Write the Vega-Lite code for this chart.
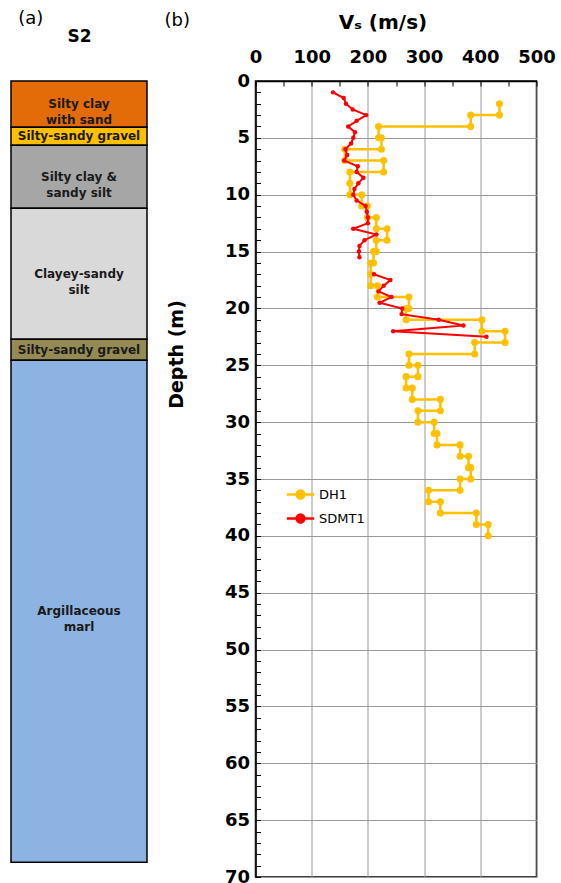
{
  "$schema": "https://vega.github.io/schema/vega-lite/v6.json",
  "padding": {"left": 10, "top": 10, "right": 2, "bottom": 2},
  "spacing": 15.5,
  "config": {
    "font": "DejaVu Sans",
    "view": {"stroke": null},
    "title": {"font": "DejaVu Sans", "fontWeight": "normal", "fontSize": 18, "color": "black"}
  },
  "datasets": {
    "strata": [
      {"id": 1, "top": 0, "bottom": 4.07, "name": "Silty clay|with sand"},
      {"id": 2, "top": 4.07, "bottom": 5.65, "name": "Silty-sandy gravel"},
      {"id": 3, "top": 5.65, "bottom": 11.2, "name": "Silty clay &|sandy silt"},
      {"id": 4, "top": 11.2, "bottom": 22.7, "name": "Clayey-sandy|silt"},
      {"id": 5, "top": 22.7, "bottom": 24.55, "name": "Silty-sandy gravel"},
      {"id": 6, "top": 24.55, "bottom": 68.7, "name": "Argillaceous|marl"}
    ],
    "vs": [
      {"i": 1, "s": "DH1", "seg": "a", "d": 2, "v": 434},
      {"i": 2, "s": "DH1", "seg": "a", "d": 3, "v": 434},
      {"i": 3, "s": "DH1", "seg": "a", "d": 3, "v": 383},
      {"i": 4, "s": "DH1", "seg": "a", "d": 4, "v": 383},
      {"i": 5, "s": "DH1", "seg": "a", "d": 4, "v": 219},
      {"i": 6, "s": "DH1", "seg": "a", "d": 5, "v": 219},
      {"i": 7, "s": "DH1", "seg": "a", "d": 5, "v": 224},
      {"i": 8, "s": "DH1", "seg": "a", "d": 6, "v": 224},
      {"i": 9, "s": "DH1", "seg": "a", "d": 6, "v": 159},
      {"i": 10, "s": "DH1", "seg": "a", "d": 7, "v": 159},
      {"i": 11, "s": "DH1", "seg": "a", "d": 7, "v": 228},
      {"i": 12, "s": "DH1", "seg": "a", "d": 8, "v": 228},
      {"i": 13, "s": "DH1", "seg": "a", "d": 8, "v": 168},
      {"i": 14, "s": "DH1", "seg": "a", "d": 9, "v": 168},
      {"i": 15, "s": "DH1", "seg": "a", "d": 10, "v": 168},
      {"i": 16, "s": "DH1", "seg": "a", "d": 10, "v": 189},
      {"i": 17, "s": "DH1", "seg": "a", "d": 11, "v": 189},
      {"i": 18, "s": "DH1", "seg": "a", "d": 11, "v": 199},
      {"i": 19, "s": "DH1", "seg": "a", "d": 12, "v": 199},
      {"i": 20, "s": "DH1", "seg": "a", "d": 12, "v": 215},
      {"i": 21, "s": "DH1", "seg": "a", "d": 13, "v": 215},
      {"i": 22, "s": "DH1", "seg": "a", "d": 13, "v": 234},
      {"i": 23, "s": "DH1", "seg": "a", "d": 14, "v": 234},
      {"i": 24, "s": "DH1", "seg": "a", "d": 14, "v": 215},
      {"i": 25, "s": "DH1", "seg": "a", "d": 15, "v": 215},
      {"i": 26, "s": "DH1", "seg": "a", "d": 15, "v": 210},
      {"i": 27, "s": "DH1", "seg": "a", "d": 16, "v": 210},
      {"i": 28, "s": "DH1", "seg": "a", "d": 16, "v": 205},
      {"i": 29, "s": "DH1", "seg": "a", "d": 17, "v": 205},
      {"i": 30, "s": "DH1", "seg": "a", "d": 18, "v": 205},
      {"i": 31, "s": "DH1", "seg": "a", "d": 18, "v": 217},
      {"i": 32, "s": "DH1", "seg": "a", "d": 19, "v": 217},
      {"i": 33, "s": "DH1", "seg": "a", "d": 19, "v": 273},
      {"i": 34, "s": "DH1", "seg": "a", "d": 20, "v": 273},
      {"i": 35, "s": "DH1", "seg": "a", "d": 20, "v": 268},
      {"i": 36, "s": "DH1", "seg": "a", "d": 21, "v": 268},
      {"i": 37, "s": "DH1", "seg": "a", "d": 21, "v": 403},
      {"i": 38, "s": "DH1", "seg": "a", "d": 22, "v": 403},
      {"i": 39, "s": "DH1", "seg": "a", "d": 22, "v": 444},
      {"i": 40, "s": "DH1", "seg": "a", "d": 23, "v": 444},
      {"i": 41, "s": "DH1", "seg": "a", "d": 23, "v": 390},
      {"i": 42, "s": "DH1", "seg": "a", "d": 24, "v": 390},
      {"i": 43, "s": "DH1", "seg": "a", "d": 24, "v": 273},
      {"i": 44, "s": "DH1", "seg": "a", "d": 25, "v": 273},
      {"i": 45, "s": "DH1", "seg": "a", "d": 25, "v": 289},
      {"i": 46, "s": "DH1", "seg": "a", "d": 26, "v": 289},
      {"i": 47, "s": "DH1", "seg": "a", "d": 26, "v": 268},
      {"i": 48, "s": "DH1", "seg": "a", "d": 27, "v": 268},
      {"i": 49, "s": "DH1", "seg": "a", "d": 27, "v": 279},
      {"i": 50, "s": "DH1", "seg": "a", "d": 28, "v": 279},
      {"i": 51, "s": "DH1", "seg": "a", "d": 28, "v": 329},
      {"i": 52, "s": "DH1", "seg": "a", "d": 29, "v": 329},
      {"i": 53, "s": "DH1", "seg": "a", "d": 29, "v": 289},
      {"i": 54, "s": "DH1", "seg": "a", "d": 30, "v": 289},
      {"i": 55, "s": "DH1", "seg": "a", "d": 30, "v": 318},
      {"i": 56, "s": "DH1", "seg": "a", "d": 31, "v": 318},
      {"i": 57, "s": "DH1", "seg": "a", "d": 31, "v": 323},
      {"i": 58, "s": "DH1", "seg": "a", "d": 32, "v": 323},
      {"i": 59, "s": "DH1", "seg": "a", "d": 32, "v": 364},
      {"i": 60, "s": "DH1", "seg": "a", "d": 33, "v": 364},
      {"i": 61, "s": "DH1", "seg": "a", "d": 33, "v": 379},
      {"i": 62, "s": "DH1", "seg": "a", "d": 34, "v": 379},
      {"i": 63, "s": "DH1", "seg": "a", "d": 34, "v": 383},
      {"i": 64, "s": "DH1", "seg": "a", "d": 35, "v": 383},
      {"i": 65, "s": "DH1", "seg": "a", "d": 35, "v": 364},
      {"i": 66, "s": "DH1", "seg": "a", "d": 36, "v": 364},
      {"i": 67, "s": "DH1", "seg": "a", "d": 36, "v": 308},
      {"i": 68, "s": "DH1", "seg": "a", "d": 37, "v": 308},
      {"i": 69, "s": "DH1", "seg": "a", "d": 37, "v": 329},
      {"i": 70, "s": "DH1", "seg": "a", "d": 38, "v": 329},
      {"i": 71, "s": "DH1", "seg": "a", "d": 38, "v": 393},
      {"i": 72, "s": "DH1", "seg": "a", "d": 39, "v": 393},
      {"i": 73, "s": "DH1", "seg": "a", "d": 39, "v": 414},
      {"i": 74, "s": "DH1", "seg": "a", "d": 40, "v": 414},
      {"i": 101, "s": "SDMT1", "seg": "b1", "d": 1.0, "v": 138},
      {"i": 102, "s": "SDMT1", "seg": "b1", "d": 1.5, "v": 157},
      {"i": 103, "s": "SDMT1", "seg": "b1", "d": 2.0, "v": 161},
      {"i": 104, "s": "SDMT1", "seg": "b1", "d": 2.5, "v": 173},
      {"i": 105, "s": "SDMT1", "seg": "b1", "d": 3.0, "v": 197},
      {"i": 106, "s": "SDMT1", "seg": "b1", "d": 3.5, "v": 180},
      {"i": 107, "s": "SDMT1", "seg": "b1", "d": 4.0, "v": 165},
      {"i": 108, "s": "SDMT1", "seg": "b1", "d": 4.5, "v": 177},
      {"i": 109, "s": "SDMT1", "seg": "b1", "d": 5.0, "v": 174},
      {"i": 110, "s": "SDMT1", "seg": "b1", "d": 5.5, "v": 170},
      {"i": 111, "s": "SDMT1", "seg": "b1", "d": 6.0, "v": 160},
      {"i": 112, "s": "SDMT1", "seg": "b1", "d": 6.5, "v": 163},
      {"i": 113, "s": "SDMT1", "seg": "b1", "d": 7.0, "v": 158},
      {"i": 114, "s": "SDMT1", "seg": "b1", "d": 7.5, "v": 182},
      {"i": 115, "s": "SDMT1", "seg": "b1", "d": 8.0, "v": 180},
      {"i": 116, "s": "SDMT1", "seg": "b1", "d": 8.5, "v": 192},
      {"i": 117, "s": "SDMT1", "seg": "b1", "d": 9.0, "v": 183},
      {"i": 118, "s": "SDMT1", "seg": "b1", "d": 9.5, "v": 176},
      {"i": 119, "s": "SDMT1", "seg": "b1", "d": 10.0, "v": 174},
      {"i": 120, "s": "SDMT1", "seg": "b1", "d": 10.5, "v": 180},
      {"i": 121, "s": "SDMT1", "seg": "b1", "d": 11.0, "v": 196},
      {"i": 122, "s": "SDMT1", "seg": "b1", "d": 11.5, "v": 198},
      {"i": 123, "s": "SDMT1", "seg": "b1", "d": 12.0, "v": 200},
      {"i": 124, "s": "SDMT1", "seg": "b1", "d": 12.5, "v": 200},
      {"i": 125, "s": "SDMT1", "seg": "b1", "d": 13.0, "v": 174},
      {"i": 126, "s": "SDMT1", "seg": "b1", "d": 13.5, "v": 215},
      {"i": 127, "s": "SDMT1", "seg": "b1", "d": 14.0, "v": 194},
      {"i": 128, "s": "SDMT1", "seg": "b1", "d": 14.5, "v": 185},
      {"i": 129, "s": "SDMT1", "seg": "b1", "d": 15.0, "v": 184},
      {"i": 130, "s": "SDMT1", "seg": "b1", "d": 15.5, "v": 185},
      {"i": 131, "s": "SDMT1", "seg": "b2", "d": 17.0, "v": 211},
      {"i": 132, "s": "SDMT1", "seg": "b2", "d": 17.5, "v": 240},
      {"i": 133, "s": "SDMT1", "seg": "b2", "d": 18.0, "v": 228},
      {"i": 134, "s": "SDMT1", "seg": "b2", "d": 18.5, "v": 219},
      {"i": 135, "s": "SDMT1", "seg": "b2", "d": 19.0, "v": 242},
      {"i": 136, "s": "SDMT1", "seg": "b2", "d": 19.5, "v": 221},
      {"i": 137, "s": "SDMT1", "seg": "b2", "d": 20.0, "v": 261},
      {"i": 138, "s": "SDMT1", "seg": "b2", "d": 20.5, "v": 260},
      {"i": 139, "s": "SDMT1", "seg": "b2", "d": 21.0, "v": 326},
      {"i": 140, "s": "SDMT1", "seg": "b2", "d": 21.5, "v": 370},
      {"i": 141, "s": "SDMT1", "seg": "b2", "d": 22.0, "v": 245},
      {"i": 142, "s": "SDMT1", "seg": "b2", "d": 22.5, "v": 411}
    ]
  },
  "hconcat": [
    {
      "width": 136,
      "height": 796,
      "view": {"stroke": null},
      "title": {"text": "(a)", "anchor": "start", "dx": 8, "offset": -1},
      "data": {"name": "strata"},
      "transform": [{"calculate": "(datum.top + datum.bottom) / 2", "as": "mid"}],
      "encoding": {
        "y": {"field": "top", "type": "quantitative", "scale": {"domain": [0, 70], "reverse": true, "nice": false, "zero": false}, "axis": null}
      },
      "layer": [
        {
          "mark": {"type": "rect", "stroke": "black", "strokeWidth": 1.5},
          "encoding": {
            "x": {"datum": 0, "type": "quantitative", "scale": {"domain": [0, 1], "nice": false},
              "axis": {"orient": "top", "labels": false, "ticks": false, "domain": false, "grid": false, "title": "S2", "titleFont": "DejaVu Sans", "titleFontSize": 17, "titleFontWeight": "bold", "titleColor": "black", "titlePadding": 36}},
            "x2": {"datum": 1},
            "y2": {"field": "bottom"},
            "fill": {"field": "id", "type": "ordinal", "legend": null,
              "scale": {"domain": [1, 2, 3, 4, 5, 6], "range": ["#E36C09", "#FFC000", "#A6A6A6", "#D9D9D9", "#948A54", "#8DB3E2"]}}
          }
        },
        {
          "mark": {"type": "text", "font": "DejaVu Sans", "fontWeight": "bold", "fontSize": 12, "lineBreak": "|", "lineHeight": 16, "baseline": "middle", "align": "center", "color": "#1a1a1a"},
          "encoding": {
            "x": {"datum": 0.5, "type": "quantitative"},
            "y": {"field": "mid", "type": "quantitative"},
            "text": {"field": "name"}
          }
        }
      ]
    },
    {
      "width": 281,
      "height": 796,
      "view": {"stroke": "black", "strokeWidth": 1.5},
      "title": {"text": "(b)", "anchor": "start", "offset": -18, "dx": -3},
      "data": {"name": "vs"},
      "encoding": {
        "x": {"field": "v", "type": "quantitative", "scale": {"domain": [0, 500], "nice": false}},
        "y": {"field": "d", "type": "quantitative", "scale": {"domain": [0, 70], "reverse": true, "nice": false, "zero": false}},
        "color": {"field": "s", "type": "nominal", "scale": {"domain": ["DH1", "SDMT1"], "range": ["#FFC000", "#FF0000"]}}
      },
      "resolve": {"axis": {"x": "independent", "y": "independent"}},
      "layer": [
        {
          "transform": [{"filter": "datum.s === 'DH1'"}],
          "mark": {"type": "line", "strokeWidth": 2.5},
          "encoding": {
            "order": {"field": "i", "type": "quantitative"},
            "x": {"field": "v", "type": "quantitative",
              "axis": {"orient": "top", "values": [0, 100, 200, 300, 400, 500], "labelOverlap": false, "labelBound": false, "labelFlush": false, "grid": true, "gridColor": "#999999", "gridWidth": 1, "ticks": false, "domainColor": "black", "domainWidth": 1.5, "labelFont": "DejaVu Sans", "labelFontWeight": "bold", "labelFontSize": 18, "labelColor": "black", "labelPadding": 15, "title": "Vₛ (m/s)", "titleFont": "DejaVu Sans", "titleFontSize": 20, "titleFontWeight": "bold", "titleColor": "black", "titlePadding": 16, "titleX": 127}},
            "y": {"field": "d", "type": "quantitative",
              "axis": {"orient": "left", "values": [0, 5, 10, 15, 20, 25, 30, 35, 40, 45, 50, 55, 60, 65, 70], "labelOverlap": false, "labelBound": false, "labelFlush": false, "grid": true, "gridColor": "#999999", "gridWidth": 1, "ticks": false, "domainColor": "black", "domainWidth": 1.5, "labelFont": "DejaVu Sans", "labelFontWeight": "bold", "labelFontSize": 18, "labelColor": "black", "labelPadding": 6, "title": "Depth (m)", "titleFont": "DejaVu Sans", "titleFontSize": 19, "titleFontWeight": "bold", "titleColor": "black", "titlePadding": 38, "titleY": 273}},
            "color": {"field": "s", "type": "nominal",
              "legend": {"orient": "none", "legendX": 275, "legendY": 399, "title": null, "padding": 0,
                "symbolType": "M-1.05,0H1.05M-0.3,0A0.3,0.3 0 1,1 0.3,0A0.3,0.3 0 1,1 -0.3,0Z",
                "symbolSize": 676, "symbolStrokeWidth": 2.5, "rowPadding": 0,
                "labelFont": "DejaVu Sans", "labelFontSize": 13, "labelColor": "black", "labelOffset": 4,
                "encode": {"symbols": {"update": {"fill": {"scale": "color", "field": "value"}, "stroke": {"scale": "color", "field": "value"}, "opacity": {"value": 1}}}}}}
          }
        },
        {
          "transform": [{"filter": "datum.s === 'DH1'"}],
          "mark": {"type": "point", "filled": true, "opacity": 1, "size": 50},
          "encoding": {
            "x": {"field": "v", "type": "quantitative",
              "axis": {"orient": "top", "values": [0, 50, 100, 150, 200, 250, 300, 350, 400, 450, 500], "labels": false, "grid": false, "domain": false, "ticks": true, "tickSize": -5, "tickColor": "black", "tickWidth": 1, "title": null}},
            "y": {"field": "d", "type": "quantitative",
              "axis": {"orient": "left", "values": [0, 1, 2, 3, 4, 5, 6, 7, 8, 9, 10, 11, 12, 13, 14, 15, 16, 17, 18, 19, 20, 21, 22, 23, 24, 25, 26, 27, 28, 29, 30, 31, 32, 33, 34, 35, 36, 37, 38, 39, 40, 41, 42, 43, 44, 45, 46, 47, 48, 49, 50, 51, 52, 53, 54, 55, 56, 57, 58, 59, 60, 61, 62, 63, 64, 65, 66, 67, 68, 69, 70], "labels": false, "grid": false, "domain": false, "ticks": true, "tickSize": -5, "tickColor": "black", "tickWidth": 1, "title": null}}
          }
        },
        {
          "transform": [{"filter": "datum.s === 'SDMT1'"}],
          "mark": {"type": "line", "strokeWidth": 2},
          "encoding": {
            "order": {"field": "i", "type": "quantitative"},
            "detail": {"field": "seg", "type": "nominal"},
            "x": {"field": "v", "type": "quantitative", "axis": null},
            "y": {"field": "d", "type": "quantitative", "axis": null}
          }
        },
        {
          "transform": [{"filter": "datum.s === 'SDMT1'"}],
          "mark": {"type": "point", "filled": true, "opacity": 1, "size": 20},
          "encoding": {
            "x": {"field": "v", "type": "quantitative", "axis": null},
            "y": {"field": "d", "type": "quantitative", "axis": null}
          }
        }
      ]
    }
  ]
}
